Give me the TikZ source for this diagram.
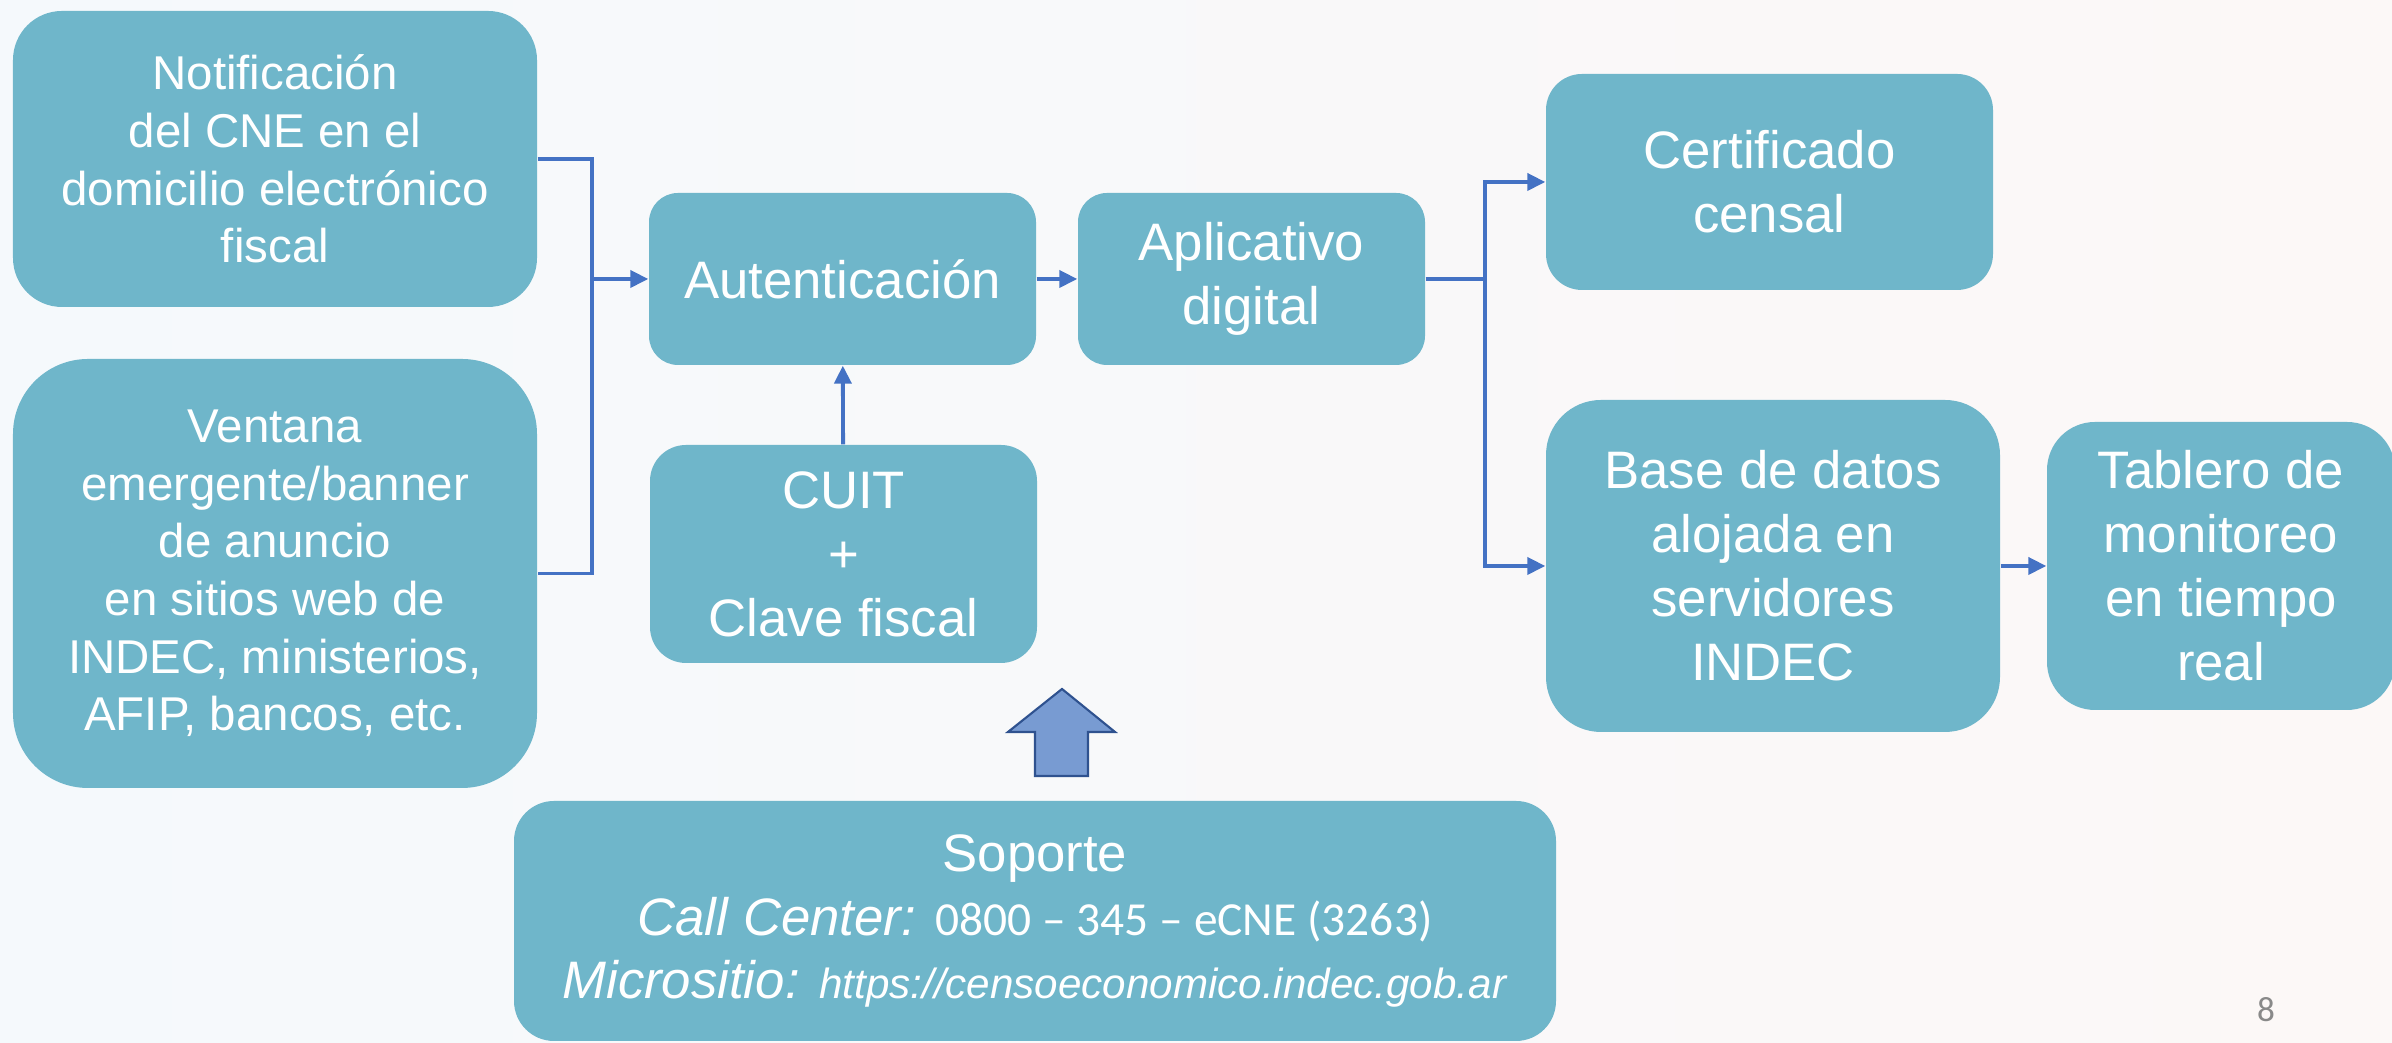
\documentclass[tikz,border=0pt]{standalone}
\usepackage{fontspec}
\setmainfont{Liberation Sans}
\newfontfamily\calibri{Carlito}
\usetikzlibrary{arrows.meta}
\definecolor{boxblue}{RGB}{111,182,202}
\definecolor{linkblue}{RGB}{68,114,196}
\definecolor{bigarrow}{RGB}{120,155,210}
\definecolor{bigarrowline}{RGB}{47,82,143}
\definecolor{bgleft}{RGB}{245,249,252}
\definecolor{bgright}{RGB}{252,248,247}
\definecolor{pagegray}{RGB}{137,137,137}

\begin{document}
\begin{tikzpicture}[
        box/.style={fill=boxblue, text=white, align=center, inner sep=0pt, font=\fontsize{15}{18.2}\selectfont},
        smallbox/.style={box, font=\fontsize{13.5}{16.4}\selectfont},
        conn/.style={draw=linkblue, line width=1.1pt},
        arr/.style={conn, -{Triangle[length=1.8mm,width=1.7mm]}}
    ]
        \useasboundingbox (0,0) rectangle (23.92,10.43);
        \shade[left color=bgleft, right color=bgright] (0,0) rectangle (23.92,10.43);

        \node[smallbox, minimum width=5.24cm, minimum height=2.96cm, rounded corners=0.49cm] (notif) at (2.75,8.84)
            {Notificación\\del CNE en el\\domicilio electrónico\\fiscal};
        \node[smallbox, minimum width=5.24cm, minimum height=4.29cm, rounded corners=0.75cm] (ventana) at (2.75,4.695)
            {Ventana\\emergente/banner\\de anuncio\\en sitios web de\\INDEC, ministerios,\\AFIP, bancos, etc.};
        \node[box, minimum width=3.87cm, minimum height=1.72cm, rounded corners=0.29cm] (autent) at (8.425,7.64) {Autenticación};
        \node[box, minimum width=3.87cm, minimum height=2.18cm, rounded corners=0.36cm] (cuit) at (8.435,4.89) {CUIT\\+\\Clave fiscal};
        \node[box, minimum width=3.47cm, minimum height=1.72cm, rounded corners=0.29cm] (aplic) at (12.515,7.64) {Aplicativo\\digital};
        \node[box, minimum width=4.47cm, minimum height=2.16cm, rounded corners=0.36cm] (certif) at (17.695,8.61) {Certificado\\censal};
        \node[box, minimum width=4.54cm, minimum height=3.32cm, rounded corners=0.55cm] (base) at (17.73,4.77)
            {Base de datos\\alojada en\\servidores\\INDEC};
        \node[box, minimum width=3.48cm, minimum height=2.88cm, rounded corners=0.48cm] (tablero) at (22.21,4.77)
            {Tablero de\\monitoreo\\en tiempo\\real};
        \node[box, font=\fontsize{15}{18}\selectfont, minimum width=10.42cm, minimum height=2.4cm, rounded corners=0.4cm] (soporte) at (10.35,1.22)
            {Soporte\\\textit{Call Center:} {\calibri\fontsize{13.5}{18}\selectfont 0800 – 345 – eCNE (3263)}\\\textit{Micrositio:} {\fontsize{12}{18}\selectfont\textit{https://censoeconomico.indec.gob.ar}}};
        \node[text=pagegray, font=\calibri\fontsize{10}{12}\selectfont] (pagenum) at (22.66,0.33) {8};

        \coordinate (jl) at (5.92,7.64);
        \coordinate (jr) at (14.85,7.64);
        \draw[conn] (notif.east) -| (jl) |- (ventana.east);
        \draw[arr] (jl) -- (autent.west);
        \draw[conn] (aplic.east) -- (jr);
        \draw[arr] (jr) |- (certif.west);
        \draw[arr] (jr) |- (base.west);
        \foreach \a/\b in {autent/aplic, cuit/autent, base/tablero}
            \draw[arr] (\a) -- (\b);

        \draw[fill=bigarrow, draw=bigarrowline, line width=0.6pt] (10.62,3.54) -- (11.15,3.11) -- (10.88,3.11) -- (10.88,2.67)
            -- (10.35,2.67) -- (10.35,3.11) -- (10.08,3.11) -- cycle;
    \end{tikzpicture}
\end{document}
